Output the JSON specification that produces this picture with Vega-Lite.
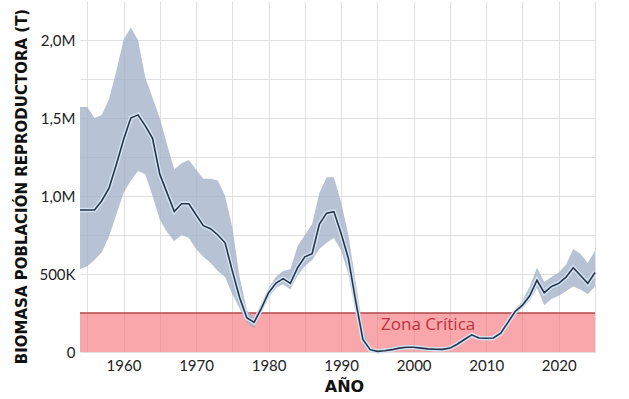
{
  "$schema": "https://vega.github.io/schema/vega-lite/v6.json",
  "autosize": "none",
  "padding": {"left": 80, "top": 1, "right": 34, "bottom": 47},
  "width": 515,
  "height": 351,
  "background": "white",
  "config": {
    "view": {"stroke": null},
    "axis": {"labelFont": "Lato", "labelFontSize": 15, "labelColor": "#222", "titleColor": "#111", "gridColor": "#e0e0e0", "gridWidth": 1, "domain": false, "ticks": false}
  },
  "datasets": {
    "ssb": [
      {"year": 1954, "b": 910000, "lo": 530000, "hi": 1570000},
      {"year": 1955, "b": 910000, "lo": 550000, "hi": 1570000},
      {"year": 1956, "b": 910000, "lo": 590000, "hi": 1500000},
      {"year": 1957, "b": 970000, "lo": 640000, "hi": 1520000},
      {"year": 1958, "b": 1050000, "lo": 740000, "hi": 1620000},
      {"year": 1959, "b": 1200000, "lo": 880000, "hi": 1800000},
      {"year": 1960, "b": 1360000, "lo": 1020000, "hi": 2000000},
      {"year": 1961, "b": 1500000, "lo": 1100000, "hi": 2080000},
      {"year": 1962, "b": 1520000, "lo": 1160000, "hi": 2000000},
      {"year": 1963, "b": 1450000, "lo": 1140000, "hi": 1760000},
      {"year": 1964, "b": 1370000, "lo": 1000000, "hi": 1630000},
      {"year": 1965, "b": 1140000, "lo": 850000, "hi": 1500000},
      {"year": 1966, "b": 1020000, "lo": 770000, "hi": 1330000},
      {"year": 1967, "b": 900000, "lo": 710000, "hi": 1170000},
      {"year": 1968, "b": 950000, "lo": 750000, "hi": 1210000},
      {"year": 1969, "b": 950000, "lo": 730000, "hi": 1230000},
      {"year": 1970, "b": 880000, "lo": 660000, "hi": 1170000},
      {"year": 1971, "b": 810000, "lo": 610000, "hi": 1110000},
      {"year": 1972, "b": 790000, "lo": 570000, "hi": 1110000},
      {"year": 1973, "b": 750000, "lo": 520000, "hi": 1100000},
      {"year": 1974, "b": 700000, "lo": 480000, "hi": 1000000},
      {"year": 1975, "b": 520000, "lo": 370000, "hi": 800000},
      {"year": 1976, "b": 350000, "lo": 280000, "hi": 480000},
      {"year": 1977, "b": 220000, "lo": 190000, "hi": 270000},
      {"year": 1978, "b": 190000, "lo": 150000, "hi": 220000},
      {"year": 1979, "b": 280000, "lo": 255000, "hi": 305000},
      {"year": 1980, "b": 380000, "lo": 350000, "hi": 410000},
      {"year": 1981, "b": 440000, "lo": 410000, "hi": 480000},
      {"year": 1982, "b": 470000, "lo": 435000, "hi": 520000},
      {"year": 1983, "b": 440000, "lo": 400000, "hi": 530000},
      {"year": 1984, "b": 540000, "lo": 490000, "hi": 680000},
      {"year": 1985, "b": 610000, "lo": 550000, "hi": 750000},
      {"year": 1986, "b": 630000, "lo": 590000, "hi": 820000},
      {"year": 1987, "b": 820000, "lo": 660000, "hi": 1020000},
      {"year": 1988, "b": 890000, "lo": 700000, "hi": 1120000},
      {"year": 1989, "b": 900000, "lo": 730000, "hi": 1120000},
      {"year": 1990, "b": 760000, "lo": 650000, "hi": 960000},
      {"year": 1991, "b": 600000, "lo": 500000, "hi": 750000},
      {"year": 1992, "b": 330000, "lo": 250000, "hi": 450000},
      {"year": 1993, "b": 80000, "lo": 40000, "hi": 150000},
      {"year": 1994, "b": 15000, "lo": 5000, "hi": 25000},
      {"year": 1995, "b": 4000, "lo": 0, "hi": 14000},
      {"year": 1996, "b": 8000, "lo": 0, "hi": 18000},
      {"year": 1997, "b": 15000, "lo": 5000, "hi": 25000},
      {"year": 1998, "b": 25000, "lo": 15000, "hi": 35000},
      {"year": 1999, "b": 30000, "lo": 20000, "hi": 40000},
      {"year": 2000, "b": 30000, "lo": 20000, "hi": 40000},
      {"year": 2001, "b": 25000, "lo": 15000, "hi": 35000},
      {"year": 2002, "b": 20000, "lo": 10000, "hi": 30000},
      {"year": 2003, "b": 18000, "lo": 8000, "hi": 28000},
      {"year": 2004, "b": 17000, "lo": 7000, "hi": 27000},
      {"year": 2005, "b": 25000, "lo": 15000, "hi": 35000},
      {"year": 2006, "b": 50000, "lo": 40000, "hi": 60000},
      {"year": 2007, "b": 80000, "lo": 70000, "hi": 90000},
      {"year": 2008, "b": 110000, "lo": 100000, "hi": 120000},
      {"year": 2009, "b": 90000, "lo": 80000, "hi": 100000},
      {"year": 2010, "b": 88000, "lo": 78000, "hi": 98000},
      {"year": 2011, "b": 90000, "lo": 80000, "hi": 100000},
      {"year": 2012, "b": 120000, "lo": 110000, "hi": 130000},
      {"year": 2013, "b": 190000, "lo": 180000, "hi": 200000},
      {"year": 2014, "b": 260000, "lo": 250000, "hi": 270000},
      {"year": 2015, "b": 300000, "lo": 280000, "hi": 330000},
      {"year": 2016, "b": 360000, "lo": 330000, "hi": 420000},
      {"year": 2017, "b": 460000, "lo": 410000, "hi": 540000},
      {"year": 2018, "b": 380000, "lo": 300000, "hi": 450000},
      {"year": 2019, "b": 420000, "lo": 340000, "hi": 480000},
      {"year": 2020, "b": 440000, "lo": 360000, "hi": 510000},
      {"year": 2021, "b": 480000, "lo": 390000, "hi": 560000},
      {"year": 2022, "b": 540000, "lo": 420000, "hi": 660000},
      {"year": 2023, "b": 490000, "lo": 400000, "hi": 630000},
      {"year": 2024, "b": 440000, "lo": 370000, "hi": 570000},
      {"year": 2025, "b": 510000, "lo": 420000, "hi": 650000}
    ],
    "zone": [{"y0": 0, "y1": 250000}],
    "lbl": [{"year": 2002, "v": 175000, "t": "Zona Crítica"}]
  },
  "encoding": {
    "x": {
      "field": "year", "type": "quantitative",
      "scale": {"domain": [1954, 2025], "nice": false, "zero": false},
      "axis": {
        "values": [1955, 1960, 1965, 1970, 1975, 1980, 1985, 1990, 1995, 2000, 2005, 2010, 2015, 2020, 2025],
        "labelExpr": "datum.value % 10 == 0 ? datum.label : ''",
        "format": "d",
        "labelPadding": 6,
        "title": "AÑO",
        "titleFont": "DejaVu Sans", "titleFontWeight": "bold", "titleFontSize": 16,
        "titleX": 264, "titleY": 34, "titleBaseline": "middle", "titleAnchor": null
      }
    }
  },
  "layer": [
    {
      "data": {"name": "zone"},
      "mark": {"type": "rect", "color": "#f76d75", "opacity": 0.6},
      "encoding": {
        "y": {"field": "y0", "type": "quantitative",
          "scale": {"domain": [0, 2250000], "nice": false},
          "axis": {
            "values": [0, 250000, 500000, 750000, 1000000, 1250000, 1500000, 1750000, 2000000],
            "labelExpr": "datum.value == 0 ? '0' : datum.value % 500000 != 0 ? '' : datum.value >= 1000000 ? replace(format(datum.value / 1000000, '.1f'), '.', ',') + 'M' : format(datum.value / 1000, 'd') + 'K'",
            "labelPadding": 5,
            "title": "BIOMASA POBLACIÓN REPRODUCTORA (T)",
            "titleFont": "DejaVu Sans", "titleFontWeight": "bold", "titleFontSize": 15,
            "titleAngle": -90, "titleX": -59, "titleY": 185, "titleAlign": "center", "titleBaseline": "middle"
          }
        },
        "y2": {"field": "y1"},
        "x": null
      }
    },
    {
      "data": {"name": "zone"},
      "mark": {"type": "rule", "color": "#b24a4d", "strokeWidth": 1.5},
      "encoding": {"y": {"field": "y1", "type": "quantitative"}, "x": null}
    },
    {
      "data": {"name": "ssb"},
      "mark": {"type": "area", "color": "#a3b1c8", "opacity": 0.78},
      "encoding": {"y": {"field": "lo", "type": "quantitative"}, "y2": {"field": "hi"}}
    },
    {
      "data": {"name": "ssb"},
      "mark": {"type": "line", "color": "#d3e3f3", "strokeWidth": 4.5},
      "encoding": {"y": {"field": "b", "type": "quantitative"}}
    },
    {
      "data": {"name": "ssb"},
      "mark": {"type": "line", "color": "#27344b", "strokeWidth": 1.6},
      "encoding": {"y": {"field": "b", "type": "quantitative"}}
    },
    {
      "data": {"name": "lbl"},
      "mark": {"type": "text", "color": "#bb3340", "font": "Open Sans", "fontSize": 17, "fontWeight": 500, "align": "center", "baseline": "middle"},
      "encoding": {"y": {"field": "v", "type": "quantitative"}, "text": {"field": "t"}, "x": {"field": "year", "type": "quantitative"}}
    }
  ]
}
